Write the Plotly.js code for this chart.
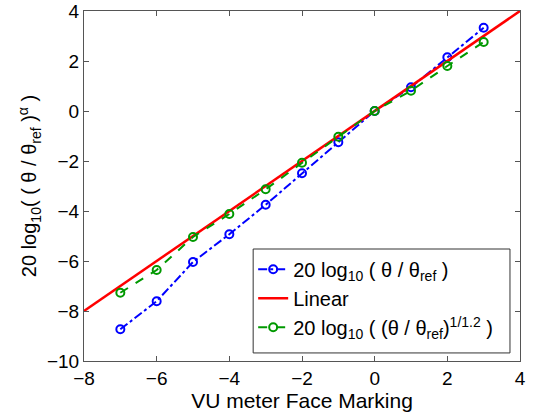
<!DOCTYPE html>
<html><head><meta charset="utf-8">
<script src="https://cdn.plot.ly/plotly-3.0.1.min.js"></script>
<style>html,body{margin:0;padding:0;background:#fff}#chart{width:536px;height:418px}</style>
</head><body><div id="chart"></div>
<script>
const faceMarks = [-7,-6,-5,-4,-3,-2,-1,0,1,2,3];
const logValues = [-8.73,-7.61,-6.04,-4.93,-3.75,-2.49,-1.25,0,0.95,2.15,3.33];
const linearX = [-8,-7,-6,-5,-4,-3,-2,-1,0,1,2,3,4];
const linearY = [-8,-7,-6,-5,-4,-3,-2,-1,0,1,2,3,4];
const powValues = [-7.27,-6.36,-5.04,-4.12,-3.13,-2.07,-1.03,0,0.81,1.8,2.76];
const xTicks = [-8,-6,-4,-2,0,2,4];
const xTickText = ['−8','−6','−4','−2','0','2','4'];
const yTicks = [-10,-8,-6,-4,-2,0,2,4];
const yTickText = ['−10','−8','−6','−4','−2','0','2','4'];

const traces = [
  {x: faceMarks, y: logValues, mode:'lines+markers', name:'20 log<sub>10</sub> ( θ / θ<sub>ref</sub> )',
   line:{color:'#0000ff', dash:'dashdot', width:2}, marker:{symbol:'circle-open', size:8, color:'#0000ff', line:{width:2}}},
  {x: linearX, y: linearY, mode:'lines', name:'Linear', line:{color:'#ff0000', width:2.5}},
  {x: faceMarks, y: powValues, mode:'lines+markers', name:'20 log<sub>10</sub> ( (θ / θ<sub>ref</sub>)<sup>1/1.2</sup> )',
   line:{color:'#009900', dash:'dash', width:2}, marker:{symbol:'circle-open', size:8, color:'#009900', line:{width:2}}}
];
const axisCommon = {showgrid:false, zeroline:false, showline:true, linecolor:'#555', linewidth:1, mirror:'ticks',
  ticks:'inside', ticklen:5, tickcolor:'#555', tickfont:{size:19, color:'#000'}};
const layout = {
  width:536, height:418, margin:{l:84, r:16, t:11, b:57},
  paper_bgcolor:'#fff', plot_bgcolor:'#fff',
  font:{family:'Liberation Sans, Arial, sans-serif', color:'#000'},
  xaxis: Object.assign({}, axisCommon, {range:[-8,4], tickvals:xTicks, ticktext:xTickText,
    title:{text:'VU meter Face Marking', font:{size:21}, standoff:2}}),
  yaxis: Object.assign({}, axisCommon, {range:[-10,4], tickvals:yTicks, ticktext:yTickText,
    title:{text:'20 log<sub>10</sub>( ( θ / θ<sub>ref</sub> )<sup>α</sup> )', font:{size:20}, standoff:4}}),
  legend:{x:0.388, y:0.318, xanchor:'left', yanchor:'top', bgcolor:'rgba(0,0,0,0)', borderwidth:0,
    font:{size:20}, tracegroupgap:0, itemwidth:30},
  shapes:[{type:'rect', xref:'paper', yref:'paper', x0:0.388, x1:0.977, y0:0.023, y1:0.32,
    line:{color:'#333', width:1}, fillcolor:'#fff', layer:'below'}],
  showlegend:true
};
Plotly.newPlot('chart', traces, layout, {staticPlot:true});
</script></body></html>
